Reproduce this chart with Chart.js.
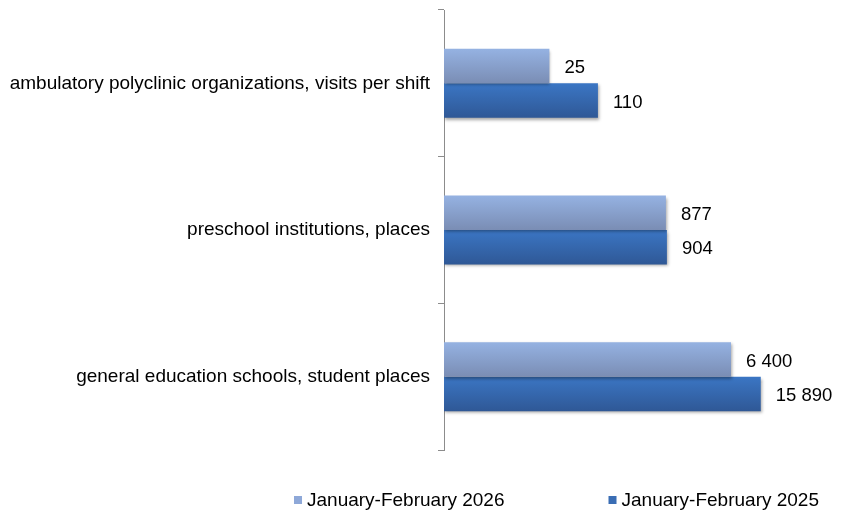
<!DOCTYPE html>
<html>
<head>
<meta charset="utf-8">
<script src="https://cdn.jsdelivr.net/npm/chart.js@4/dist/chart.umd.min.js"></script>
<style>
html,body{margin:0;padding:0;background:#fff;}
#wrap{width:844px;height:511px;position:relative;}
</style>
</head>
<body>
<div id="wrap"><canvas id="c" width="844" height="511"></canvas></div>
<script>
const categories = [
  "ambulatory polyclinic organizations, visits per shift",
  "preschool institutions, places",
  "general education schools, student places"
];
const seriesNames = ["January-February 2026", "January-February 2025"];
const values2026 = [25, 877, 6400];
const values2025 = [110, 904, 15890];
const valueLabels2026 = ["25", "877", "6 400"];
const valueLabels2025 = ["110", "904", "15 890"];

const FONT = "'Liberation Sans', Arial, sans-serif";
const CAT_PCT = 0.47;
const gradStops = [
  ["#95b2e2", "#7a8db4"],
  ["#3b76c4", "#2f5896"]
];
const legendColors = ["#8ea8d8", "#3a6db4"];

function barGradient(ctx, dsIndex) {
  const chart = ctx.chart;
  const y = chart.scales && chart.scales.y;
  if (!y || !chart.chartArea || ctx.dataIndex == null) return gradStops[dsIndex][0];
  const center = y.getPixelForValue(ctx.dataIndex);
  const thick = (y.height / categories.length) * CAT_PCT / 2;
  const top = dsIndex === 0 ? center - thick : center;
  const g = chart.ctx.createLinearGradient(0, top, 0, top + thick);
  g.addColorStop(0, gradStops[dsIndex][0]);
  g.addColorStop(1, gradStops[dsIndex][1]);
  return g;
}

const shadowPlugin = {
  id: 'shadow',
  beforeDatasetsDraw(chart) {
    const c = chart.ctx;
    c.save();
    c.shadowColor = 'rgba(0,0,0,0.35)';
    c.shadowBlur = 3;
    c.shadowOffsetX = 1;
    c.shadowOffsetY = 2;
  },
  afterDatasetsDraw(chart) {
    chart.ctx.restore();
    const c = chart.ctx;
    const texts = [valueLabels2026, valueLabels2025];
    c.save();
    c.font = "18.5px " + FONT;
    c.fillStyle = "#000";
    c.textAlign = "left";
    c.textBaseline = "middle";
    chart.data.datasets.forEach((ds, di) => {
      const meta = chart.getDatasetMeta(di);
      meta.data.forEach((bar, i) => {
        c.fillText(texts[di][i], bar.x + 15, bar.y + 2);
      });
    });
    c.restore();
  }
};

const legendPlugin = {
  id: 'customLegend',
  afterDraw(chart) {
    const c = chart.ctx;
    c.save();
    c.font = "19px " + FONT;
    c.textBaseline = "middle";
    const box = 8, gapText = 5, gap = 104;
    const widths = seriesNames.map(t => box + gapText + c.measureText(t).width);
    const total = widths.reduce((a, b) => a + b, 0) + gap * (widths.length - 1);
    let x = chart.chartArea.right - 2 - total;
    const yc = 501;
    seriesNames.forEach((t, i) => {
      c.fillStyle = legendColors[i];
      c.fillRect(x, yc - 5, box, box);
      c.fillStyle = "#000";
      c.fillText(t, x + box + gapText, yc);
      x += widths[i] + gap;
    });
    c.restore();
  }
};

new Chart(document.getElementById('c'), {
  type: 'bar',
  data: {
    labels: categories,
    datasets: [
      { label: seriesNames[0], data: values2026, backgroundColor: ctx => barGradient(ctx, 0),
        categoryPercentage: CAT_PCT, barPercentage: 1 },
      { label: seriesNames[1], data: values2025, backgroundColor: ctx => barGradient(ctx, 1),
        categoryPercentage: CAT_PCT, barPercentage: 1 }
    ]
  },
  options: {
    indexAxis: 'y',
    responsive: false,
    animation: false,
    devicePixelRatio: 1,
    layout: { padding: { top: 10, right: 23, bottom: 61, left: 0 } },
    plugins: { legend: { display: false }, tooltip: { enabled: false } },
    scales: {
      x: { type: 'logarithmic', min: 1, max: 100000, display: false },
      y: {
        afterFit(scale) { scale.width = 444; scale.paddingTop = 0; scale.paddingBottom = 0; },
        grid: { offset: true, drawOnChartArea: false, drawTicks: true, tickLength: 6, color: '#8c8c8c', lineWidth: 1 },
        border: { color: '#8c8c8c', width: 1 },
        ticks: { color: '#000', padding: 8, font: { family: FONT, size: 19 } }
      }
    }
  },
  plugins: [shadowPlugin, legendPlugin]
});
</script>
</body>
</html>
